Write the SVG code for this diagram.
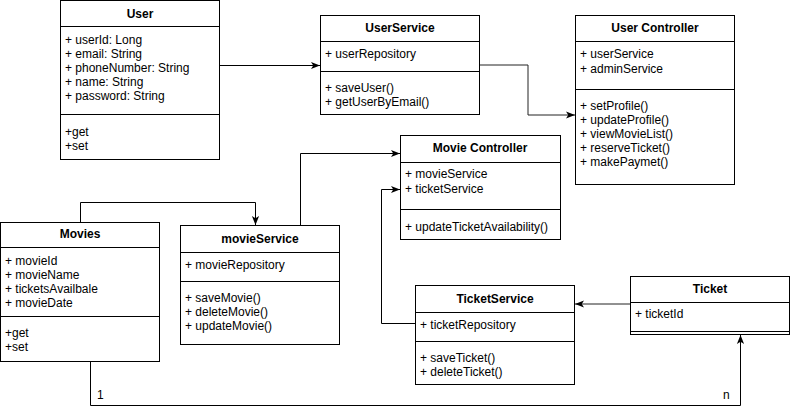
<svg xmlns="http://www.w3.org/2000/svg" width="791" height="414" viewBox="0 0 791 414">
<style>
.t{font-family:"Liberation Sans",Arial,sans-serif;font-size:12px;fill:#000}
.h{font-weight:bold;text-anchor:middle}
.box{fill:#fff;stroke:#000;stroke-width:1}
.sep{stroke:#000;stroke-width:1}
.c{fill:none;stroke:#000;stroke-width:1;marker-end:url(#arr)}
.g{stroke:#222}
</style>
<defs>
<marker id="arr" viewBox="0 0 10 10" refX="10" refY="5" markerWidth="9" markerHeight="9" orient="auto" markerUnits="userSpaceOnUse">
<path d="M0,1 L10,5 L0,9 L2.5,5 z" fill="#000"/>
</marker>
</defs>
<rect width="791" height="414" fill="#fff"/>
<g id="connectors">
<path class="c" d="M220,65.5 H320"/>
<path class="c g" d="M480,65 H528 V115 H575"/>
<path class="c" d="M300.5,225 V153.5 H400"/>
<path class="c" d="M80.5,222 V202.5 H255.5 V225"/>
<path class="c" d="M415,323.5 H381.5 V189.5 H400"/>
<path class="c g" d="M630,304 H575"/>
<path class="c" d="M90.5,361 V405.5 H740.5 V335"/>
<text class="t" x="97" y="399">1</text>
<text class="t" x="723" y="399">n</text>
</g>
<g id="user">
<rect class="box" x="60.5" y="0.5" width="159" height="159"/>
<line class="sep" x1="60" y1="26.5" x2="220" y2="26.5"/>
<line class="sep" x1="60" y1="114.5" x2="220" y2="114.5"/>
<text class="t h" x="140" y="18">User</text>
<text class="t" x="65" y="44">+ userId: Long</text>
<text class="t" x="65" y="58">+ email: String</text>
<text class="t" x="65" y="72">+ phoneNumber: String</text>
<text class="t" x="65" y="86">+ name: String</text>
<text class="t" x="65" y="100">+ password: String</text>
<text class="t" x="65" y="136">+get</text>
<text class="t" x="65" y="150">+set</text>
</g>
<g id="userService">
<rect class="box" x="320.5" y="15.5" width="159" height="99"/>
<line class="sep" x1="320" y1="41.5" x2="480" y2="41.5"/>
<line class="sep" x1="320" y1="71.5" x2="480" y2="71.5"/>
<text class="t h" x="400" y="32">UserService</text>
<text class="t" x="325" y="58">+ userRepository</text>
<text class="t" x="325" y="92">+ saveUser()</text>
<text class="t" x="325" y="106">+ getUserByEmail()</text>
</g>
<g id="userController">
<rect class="box" x="575.5" y="15.5" width="159" height="169"/>
<line class="sep" x1="575" y1="41.5" x2="735" y2="41.5"/>
<line class="sep" x1="575" y1="89.5" x2="735" y2="89.5"/>
<text class="t h" x="655" y="32">User Controller</text>
<text class="t" x="580" y="58">+ userService</text>
<text class="t" x="580" y="73">+ adminService</text>
<text class="t" x="580" y="110">+ setProfile()</text>
<text class="t" x="580" y="124">+ updateProfile()</text>
<text class="t" x="580" y="138">+ viewMovieList()</text>
<text class="t" x="580" y="152">+ reserveTicket()</text>
<text class="t" x="580" y="166">+ makePaymet()</text>
</g>
<g id="movieController">
<rect class="box" x="400.5" y="135.5" width="160" height="104"/>
<line class="sep" x1="400" y1="162.5" x2="561" y2="162.5"/>
<line class="sep" x1="400" y1="209.5" x2="561" y2="209.5"/>
<text class="t h" x="480" y="152">Movie Controller</text>
<text class="t" x="405" y="178">+ movieService</text>
<text class="t" x="405" y="193">+ ticketService</text>
<text class="t" x="405" y="231">+ updateTicketAvailability()</text>
</g>
<g id="movies">
<rect class="box" x="0.5" y="222.5" width="159" height="139"/>
<line class="sep" x1="0" y1="247.5" x2="160" y2="247.5"/>
<line class="sep" x1="0" y1="316.5" x2="160" y2="316.5"/>
<text class="t h" x="80" y="238">Movies</text>
<text class="t" x="5" y="265">+ movieId</text>
<text class="t" x="5" y="279">+ movieName</text>
<text class="t" x="5" y="293">+ ticketsAvailbale</text>
<text class="t" x="5" y="307">+ movieDate</text>
<text class="t" x="5" y="337">+get</text>
<text class="t" x="5" y="351">+set</text>
</g>
<g id="movieService">
<rect class="box" x="180.5" y="225.5" width="159" height="119"/>
<line class="sep" x1="180" y1="252.5" x2="340" y2="252.5"/>
<line class="sep" x1="180" y1="281.5" x2="340" y2="281.5"/>
<text class="t h" x="260" y="243">movieService</text>
<text class="t" x="185" y="269">+ movieRepository</text>
<text class="t" x="185" y="302">+ saveMovie()</text>
<text class="t" x="185" y="316">+ deleteMovie()</text>
<text class="t" x="185" y="330">+ updateMovie()</text>
</g>
<g id="ticketService">
<rect class="box" x="415.5" y="285.5" width="159" height="99"/>
<line class="sep" x1="415" y1="312.5" x2="575" y2="312.5"/>
<line class="sep" x1="415" y1="341.5" x2="575" y2="341.5"/>
<text class="t h" x="495" y="303">TicketService</text>
<text class="t" x="420" y="329">+ ticketRepository</text>
<text class="t" x="420" y="362">+ saveTicket()</text>
<text class="t" x="420" y="376">+ deleteTicket()</text>
</g>
<g id="ticket">
<rect class="box" x="630.5" y="276.5" width="159" height="58"/>
<line class="sep" x1="630" y1="302.5" x2="790" y2="302.5"/>
<line class="sep" x1="630" y1="331.5" x2="790" y2="331.5"/>
<text class="t h" x="710" y="293">Ticket</text>
<text class="t" x="635" y="318">+ ticketId</text>
</g>
</svg>
